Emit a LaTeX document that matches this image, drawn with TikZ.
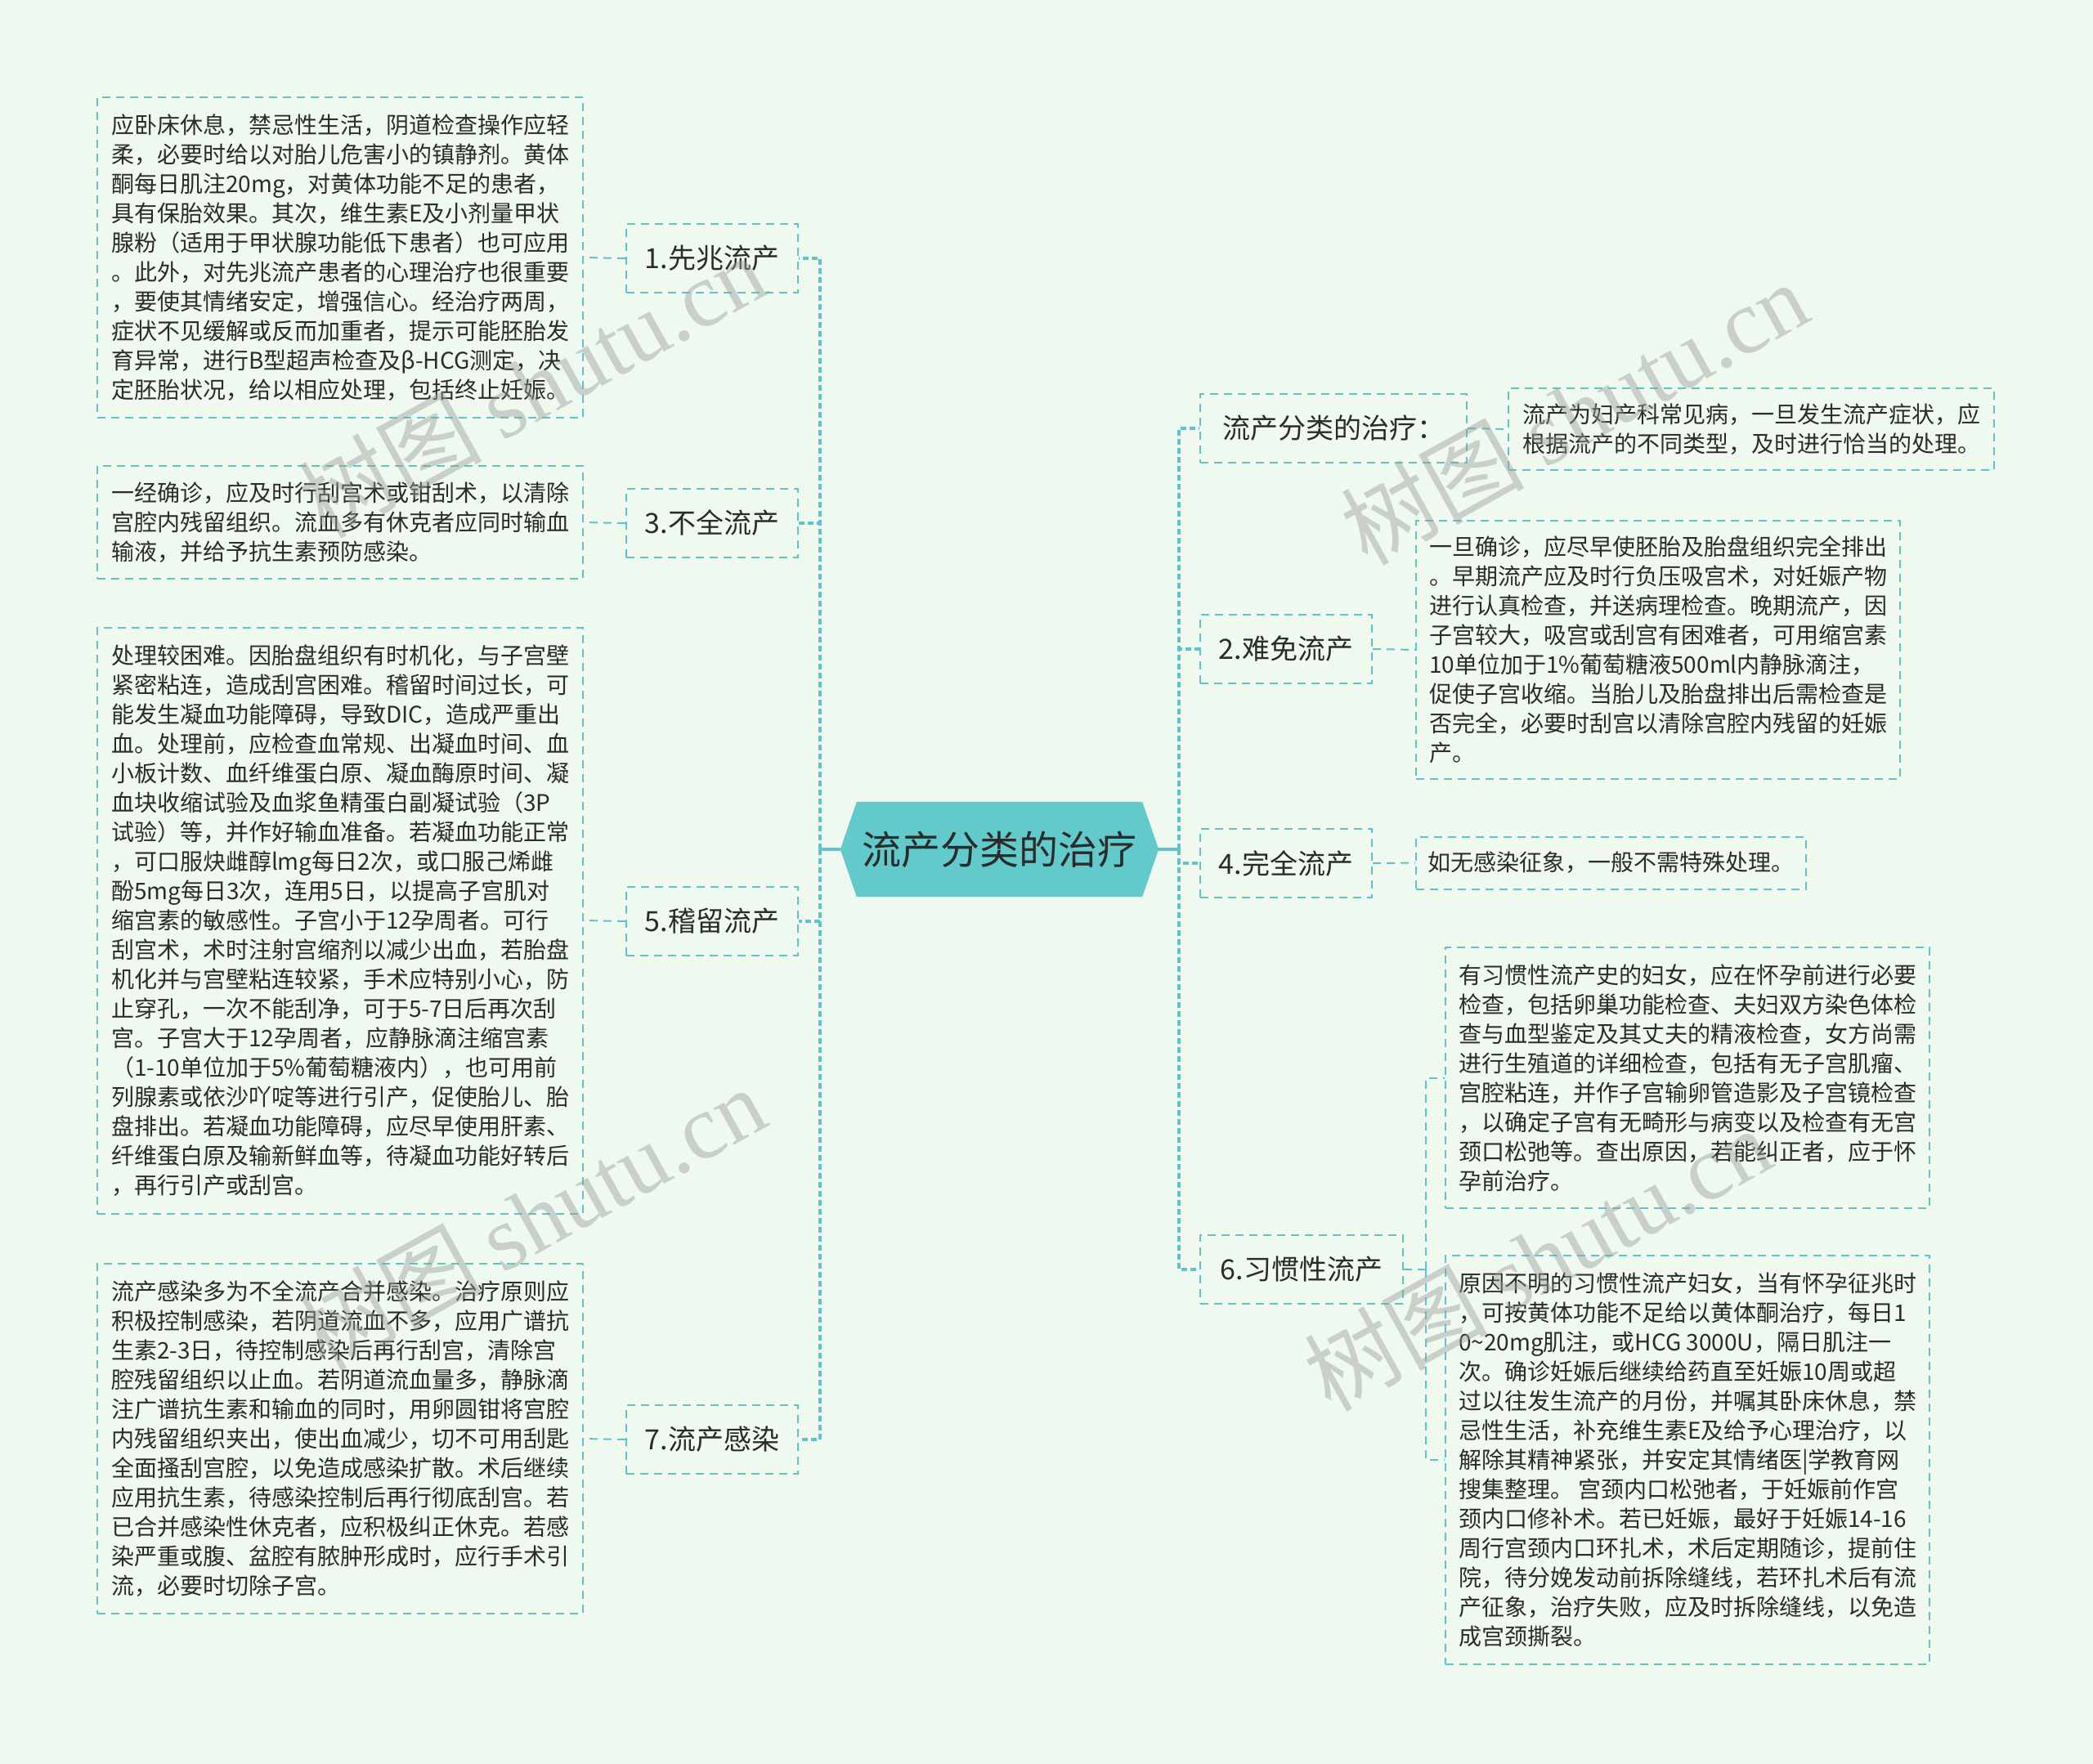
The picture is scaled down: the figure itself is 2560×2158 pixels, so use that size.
\documentclass[tikz,border=0pt]{standalone}
\usepackage{fontspec}
\setmainfont{Noto Sans CJK SC}
\newfontfamily\wmfont{Liberation Serif}
\usetikzlibrary{calc}
\definecolor{bg}{HTML}{F0F9F0}
\definecolor{ln}{HTML}{5EC4C9}
\definecolor{rootfill}{HTML}{63CACC}
\definecolor{txt}{HTML}{2B2B2B}
\definecolor{wmc}{HTML}{9A9E9A}
\begin{document}
\begin{tikzpicture}[x=1pt,y=-1pt,
  leaf/.style={draw=ln, line width=2pt, dash pattern=on 10pt off 7pt, align=left,
    font=\fontsize{28}{36}\selectfont, text=txt, inner sep=0pt},
  child/.style={draw=ln, line width=2pt, dash pattern=on 10pt off 7pt,
    font=\fontsize{34}{40}\selectfont, text=txt, inner sep=0pt, minimum height=84pt},
  conn/.style={draw=ln, line width=2pt, dash pattern=on 10pt off 7pt},
  trunk/.style={draw=ln, line width=3.5pt, dash pattern=on 7pt off 4pt},
  rootline/.style={draw=ln, line width=4pt},
  wm/.style={font=\fontsize{112}{116}\selectfont, text=wmc, opacity=0.45, rotate=29, inner sep=0pt}
]
\fill[bg] (0,0) rectangle (2560,2158);
\useasboundingbox (0,0) rectangle (2560,2158);

% root
\node[inner sep=0pt, minimum width=389pt, minimum height=116pt] (root) at (1222.5,1039) {};
\fill[rootfill] (root.west) -- ([xshift=20pt]root.north west) -- ([xshift=-20pt]root.north east)
  -- (root.east) -- ([xshift=-20pt]root.south east) -- ([xshift=20pt]root.south west) -- cycle;
\node[font=\fontsize{48}{52}\selectfont, text=txt, inner sep=0pt] (rootlabel) at (root.center) {流产分类的治疗};

% left children
\node[child, minimum width=210pt] (c1) at (871,316) {1.先兆流产};
\node[child, minimum width=210pt] (c3) at (871,640) {3.不全流产};
\node[child, minimum width=210pt] (c5) at (871,1127) {5.稽留流产};
\node[child, minimum width=210pt] (c7) at (871,1761) {7.流产感染};

% right children
\node[child, minimum width=326pt] (r1) at (1631,524) {流产分类的治疗：};
\node[child, minimum width=210pt] (r2) at (1573,794) {2.难免流产};
\node[child, minimum width=210pt] (r4) at (1573,1056) {4.完全流产};
\node[child, minimum width=248pt] (r6) at (1592,1553) {6.习惯性流产};

% left leaves
\node[leaf, minimum width=594pt, minimum height=392pt] (l1) at (416,315) {应卧床休息，禁忌性生活，阴道检查操作应轻\\
柔，必要时给以对胎儿危害小的镇静剂。黄体\\
酮每日肌注20mg，对黄体功能不足的患者，\\
具有保胎效果。其次，维生素E及小剂量甲状\\
腺粉（适用于甲状腺功能低下患者）也可应用\\
。此外，对先兆流产患者的心理治疗也很重要\\
，要使其情绪安定，增强信心。经治疗两周，\\
症状不见缓解或反而加重者，提示可能胚胎发\\
育异常，进行B型超声检查及β-HCG测定，决\\
定胚胎状况，给以相应处理，包括终止妊娠。};

\node[leaf, minimum width=594pt, minimum height=138pt] (l3) at (416,639) {一经确诊，应及时行刮宫术或钳刮术，以清除\\
宫腔内残留组织。流血多有休克者应同时输血\\
输液，并给予抗生素预防感染。};

\node[leaf, minimum width=594pt, minimum height=717pt] (l5) at (416,1126) {处理较困难。因胎盘组织有时机化，与子宫壁\\
紧密粘连，造成刮宫困难。稽留时间过长，可\\
能发生凝血功能障碍，导致DIC，造成严重出\\
血。处理前，应检查血常规、出凝血时间、血\\
小板计数、血纤维蛋白原、凝血酶原时间、凝\\
血块收缩试验及血浆鱼精蛋白副凝试验（3P\\
试验）等，并作好输血准备。若凝血功能正常\\
，可口服炔雌醇lmg每日2次，或口服己烯雌\\
酚5mg每日3次，连用5日，以提高子宫肌对\\
缩宫素的敏感性。子宫小于12孕周者。可行\\
刮宫术，术时注射宫缩剂以减少出血，若胎盘\\
机化并与宫壁粘连较紧，手术应特别小心，防\\
止穿孔，一次不能刮净，可于5-7日后再次刮\\
宫。子宫大于12孕周者，应静脉滴注缩宫素\\
（1-10单位加于5\%葡萄糖液内），也可用前\\
列腺素或依沙吖啶等进行引产，促使胎儿、胎\\
盘排出。若凝血功能障碍，应尽早使用肝素、\\
纤维蛋白原及输新鲜血等，待凝血功能好转后\\
，再行引产或刮宫。};

\node[leaf, minimum width=594pt, minimum height=428pt] (l7) at (416,1760) {流产感染多为不全流产合并感染。治疗原则应\\
积极控制感染，若阴道流血不多，应用广谱抗\\
生素2-3日，待控制感染后再行刮宫，清除宫\\
腔残留组织以止血。若阴道流血量多，静脉滴\\
注广谱抗生素和输血的同时，用卵圆钳将宫腔\\
内残留组织夹出，使出血减少，切不可用刮匙\\
全面搔刮宫腔，以免造成感染扩散。术后继续\\
应用抗生素，待感染控制后再行彻底刮宫。若\\
已合并感染性休克者，应积极纠正休克。若感\\
染严重或腹、盆腔有脓肿形成时，应行手术引\\
流，必要时切除子宫。};

% right leaves
\node[leaf, minimum width=594pt, minimum height=100pt] (q1) at (2142,525) {流产为妇产科常见病，一旦发生流产症状，应\\
根据流产的不同类型，及时进行恰当的处理。};

\node[leaf, minimum width=592pt, minimum height=316pt] (q2) at (2028,795) {一旦确诊，应尽早使胚胎及胎盘组织完全排出\\
。早期流产应及时行负压吸宫术，对妊娠产物\\
进行认真检查，并送病理检查。晚期流产，因\\
子宫较大，吸宫或刮宫有困难者，可用缩宫素\\
10单位加于1\%葡萄糖液500ml内静脉滴注，\\
促使子宫收缩。当胎儿及胎盘排出后需检查是\\
否完全，必要时刮宫以清除宫腔内残留的妊娠\\
产。};

\node[leaf, minimum width=477pt, minimum height=64pt] (q4) at (1970.5,1055.5) {如无感染征象，一般不需特殊处理。};

\node[leaf, minimum width=592pt, minimum height=319pt] (q6a) at (2064,1318.5) {有习惯性流产史的妇女，应在怀孕前进行必要\\
检查，包括卵巢功能检查、夫妇双方染色体检\\
查与血型鉴定及其丈夫的精液检查，女方尚需\\
进行生殖道的详细检查，包括有无子宫肌瘤、\\
宫腔粘连，并作子宫输卵管造影及子宫镜检查\\
，以确定子宫有无畸形与病变以及检查有无宫\\
颈口松弛等。查出原因，若能纠正者，应于怀\\
孕前治疗。};

\node[leaf, minimum width=592pt, minimum height=500pt] (q6b) at (2064,1786) {原因不明的习惯性流产妇女，当有怀孕征兆时\\
，可按黄体功能不足给以黄体酮治疗，每日1\\
0\textasciitilde20mg肌注，或HCG 3000U，隔日肌注一\\
次。确诊妊娠后继续给药直至妊娠10周或超\\
过以往发生流产的月份，并嘱其卧床休息，禁\\
忌性生活，补充维生素E及给予心理治疗，以\\
解除其精神紧张，并安定其情绪医|学教育网\\
搜集整理。 宫颈内口松弛者，于妊娠前作宫\\
颈内口修补术。若已妊娠，最好于妊娠14-16\\
周行宫颈内口环扎术，术后定期随诊，提前住\\
院，待分娩发动前拆除缝线，若环扎术后有流\\
产征象，治疗失败，应及时拆除缝线，以免造\\
成宫颈撕裂。};

% connectors: root to trunks
\coordinate (tl) at (1003,1039);
\coordinate (tr) at (1442,1039);
\draw[rootline] (root.west) -- (tl);
\draw[rootline] (root.east) -- (tr);
\draw[trunk] (tl) |- (c1.east);
\draw[trunk] (tl) |- (c3.east);
\draw[trunk] (tl) |- (c5.east);
\draw[trunk] (tl) |- (c7.east);
\draw[trunk] (tr) |- (r1.west);
\draw[trunk] (tr) |- (r2.west);
\draw[trunk] (tr) |- (r4.west);
\draw[trunk] (tr) |- (r6.west);

% children to leaves
\draw[conn] (c1.west) -- (l1.east);
\draw[conn] (c3.west) -- (l3.east);
\draw[conn] (c5.west) -- (l5.east);
\draw[conn] (c7.west) -- (l7.east);
\draw[conn] (r1.east) -- (q1.west);
\draw[conn] (r2.east) -- (q2.west);
\draw[conn] (r4.east) -- (q4.west);
\coordinate (s6) at (1744,1553);
\draw[conn] (r6.east) -- (s6);
\draw[conn] (s6) |- (q6a.west);
\draw[conn] (s6) |- (q6b.west);

% watermarks
\node[wm] (wm1) at (650,472) {树图 {\wmfont shutu.cn}};
\node[wm] (wm2) at (650,1490) {树图 {\wmfont shutu.cn}};
\node[wm] (wm3) at (1925,505) {树图 {\wmfont shutu.cn}};
\node[wm] (wm4) at (1880,1540) {树图 {\wmfont shutu.cn}};
\end{tikzpicture}
\end{document}
